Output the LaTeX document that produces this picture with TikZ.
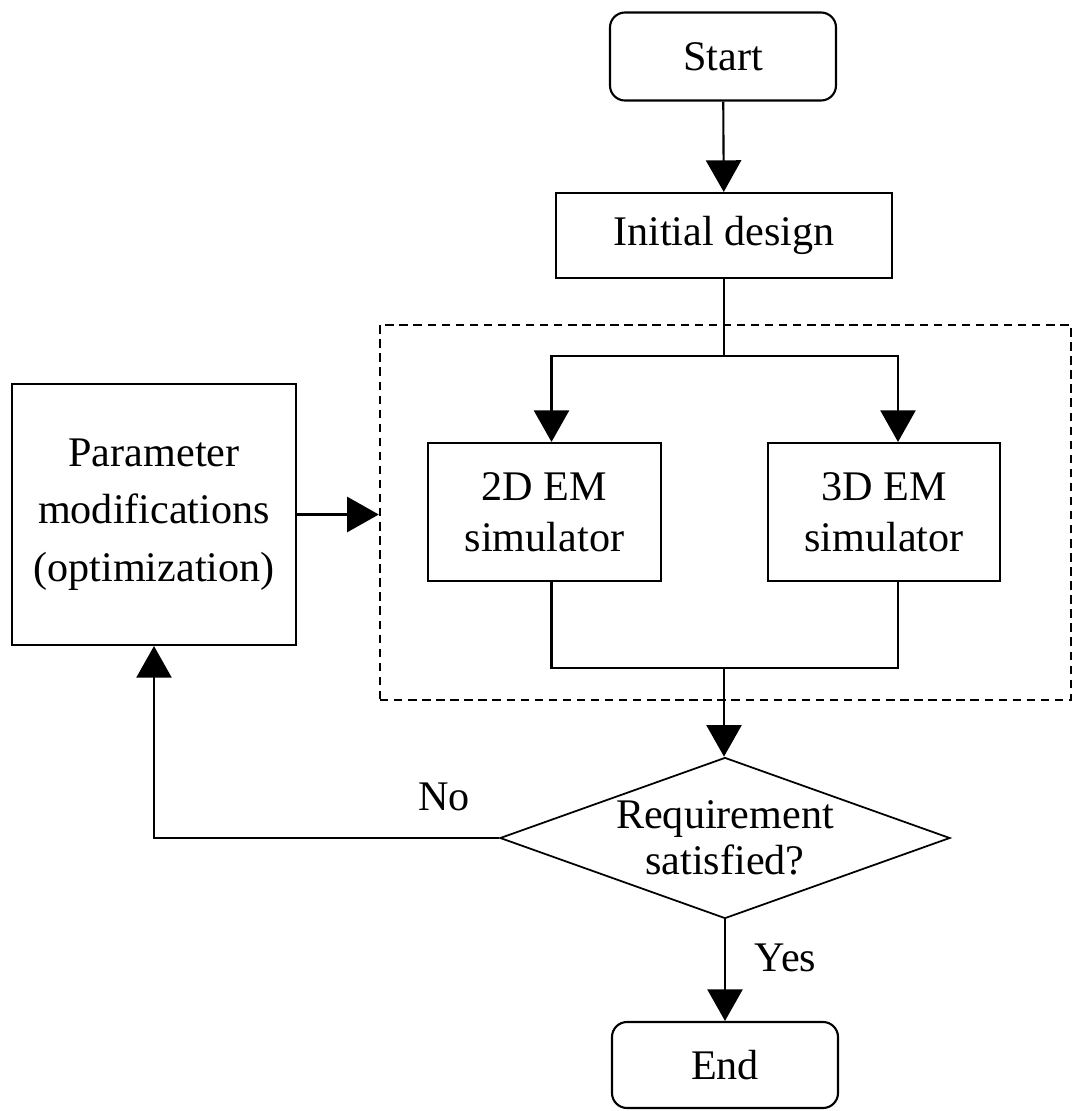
\documentclass[tikz,border=0pt]{standalone}
\usepackage{fontspec}
\setmainfont{Liberation Serif}
\usetikzlibrary{shapes.geometric, arrows.meta}
\tikzstyle{terminal} = [rectangle, rounded corners=0.15cm, minimum width=2.26cm, minimum height=0.88cm, draw=black, line width=0.6pt]
\tikzstyle{process} = [rectangle, align=center, draw=black, line width=0.6pt]
\tikzstyle{decision} = [diamond, aspect=2.8, inner sep=0pt, minimum width=4.5cm, minimum height=1.61cm, align=center, draw=black, line width=0.5pt, font=\fontsize{12}{13}\selectfont]
\tikzstyle{arrow} = [line width=0.6pt, -{Triangle[width=10pt,length=9pt]}]
\tikzstyle{line} = [line width=0.6pt]

\begin{document}
\begin{tikzpicture}[font=\fontsize{12}{14.4}\selectfont]
          \useasboundingbox (0,0) rectangle (10.72,-11.11);
          \node (start) [terminal] at (7.23,-0.565)                                          {Start}; %
          \node (init)  [process, minimum width=3.36cm, minimum height=0.85cm] at (7.24,-2.355) {Initial design}; %
          \node (sim)   [draw, dashed, dash pattern=on 2.4pt off 1.6pt, line width=0.7pt, minimum width=6.91cm, minimum height=3.75cm] at (7.255,-5.125) {}; %
          \node (em2)   [process, minimum width=2.33cm, minimum height=1.38cm] at (5.445,-5.12) {2D EM\\simulator}; %
          \node (em3)   [process, minimum width=2.32cm, minimum height=1.38cm] at (8.84,-5.12)  {3D EM\\simulator}; %
          \node (param) [process, minimum width=2.84cm, minimum height=2.61cm] at (1.54,-5.145) {Parameter\\[2pt]modifications\\[2pt](optimization)}; %
          \node (req)   [decision] at (7.25,-8.38)                                           {Requirement\\satisfied?}; %
          \node (end)   [terminal, minimum height=0.86cm] at (7.25,-10.65)                   {End}; %

          %% Connections
          \coordinate (split) at (7.24,-3.56);
          \coordinate (join)  at (7.24,-6.68);
          \draw [arrow] (start) -- (init); %
          \draw [line]  (init) -- (split); %
          \draw [arrow] (split) -| ([xshift=0.07cm]em2.north); %
          \draw [arrow] (split) -| ([xshift=0.14cm]em3.north); %
          \draw [line]  ([xshift=0.07cm]em2.south) |- (join) -| ([xshift=0.14cm]em3.south); %
          \draw [arrow] (join) -- (join |- req.north); %
          \draw [arrow] (param.east) -- (param.east -| sim.west); %
          \draw [arrow] (req.west) -| node[pos=0.08, above=4pt] {No} (param.south); %
          \draw [arrow] (req.south) -- node[pos=0.38, right=0.17cm] {Yes} (end); %
        \end{tikzpicture}
\end{document}
